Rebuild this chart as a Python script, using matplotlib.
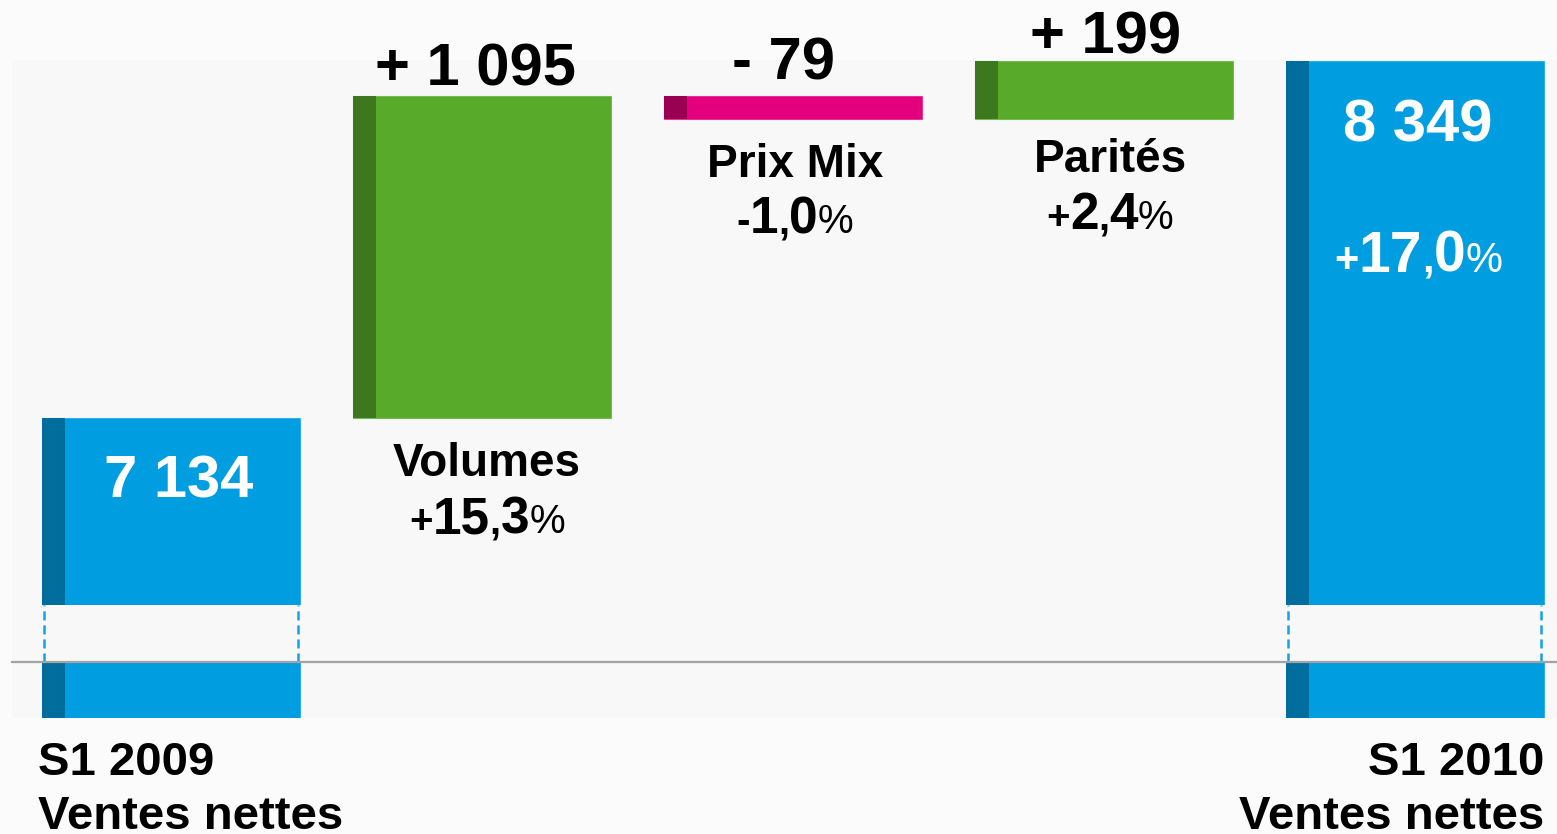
import matplotlib
matplotlib.use('Agg')
import matplotlib.pyplot as plt
from matplotlib.patches import Rectangle
from matplotlib.lines import Line2D

plt.rcParams['lines.scale_dashes'] = False

W, H, DPI = 1557, 834, 100
FONT = ['Liberation Sans', 'DejaVu Sans']

# ---------------- data ----------------
categories = ['S1 2009', 'Volumes', 'Prix Mix', 'Parités', 'S1 2010']
values = [7134, 1095, -79, 199, 8349]
kinds = ['total', 'delta', 'delta', 'delta', 'total']
value_labels = ['7 134', '+ 1 095', '- 79', '+ 199', '8 349']
pct_values = [None, 15.3, -1.0, 2.4, 17.0]
total_sublabel = 'Ventes nettes'

# ---------------- colours ----------------
C_TOTAL, C_TOTAL_D = '#009ee0', '#006d9c'
C_POS, C_POS_D = '#58aa2a', '#3e781e'
C_NEG, C_NEG_D = '#e4007c', '#9a0052'

# waterfall geometry from values
bottoms, heights, colors, darks = [], [], [], []
running = 0
for v, k in zip(values, kinds):
    if k == 'total':
        bottoms.append(0); heights.append(v); running = v
        colors.append(C_TOTAL); darks.append(C_TOTAL_D)
    else:
        if v >= 0:
            bottoms.append(running); heights.append(v)
            colors.append(C_POS); darks.append(C_POS_D)
        else:
            bottoms.append(running + v); heights.append(-v)
            colors.append(C_NEG); darks.append(C_NEG_D)
        running += v
xs = list(range(len(values)))

fig = plt.figure(figsize=(W / DPI, H / DPI), dpi=DPI, facecolor='#fbfbfb')

# subtle plot-area background
fig.patches.append(Rectangle((12 / W, 1 - 718 / H), 1 - 12 / W, (718 - 60) / H,
                             transform=fig.transFigure, facecolor='#f8f8f8',
                             edgecolor='none', zorder=-10))


def px_axes(top, bottom):
    ax = fig.add_axes([0, 1 - bottom / H, 1, (bottom - top) / H])
    ax.set_xlim(-0.55, 4.458)
    ax.axis('off')
    ax.patch.set_alpha(0)
    ax.set_zorder(1)
    return ax


BW = 0.83
STRIP = 0.075

ax_top = px_axes(0, 605)
ax_top.set_ylim(6498, 8555)
ax_gap = px_axes(605, 662)
ax_gap.set_ylim(0, 1)
ax_bot = px_axes(662, 718)
ax_bot.set_ylim(0, 190)

for ax in (ax_top, ax_bot):
    ax.bar(xs, heights, bottom=bottoms, width=BW, color=colors,
           edgecolor=[c + '99' for c in colors], linewidth=0.8)
    ax.bar([x - BW / 2 for x in xs], heights, bottom=bottoms, width=STRIP,
           align='edge', color=darks, linewidth=0)

# dashed break markers for total bars
inset = 2.5 / 311
for x, k in zip(xs, kinds):
    if k == 'total':
        for xe in (x - BW / 2 + inset, x + BW / 2 - inset):
            ax_gap.plot([xe, xe], [0, 1], color='#12a2e6', lw=1.8,
                        linestyle=(0, (6.5, 3.6)), solid_capstyle='butt')

# baseline grey line
fig.lines.append(Line2D([12 / W, 1], [1 - 662 / H, 1 - 662 / H],
                        transform=fig.transFigure, color='#a3a3a3', lw=1.6, zorder=5))

# ---------------- text ----------------
renderer = fig.canvas.get_renderer()


def rich(pieces, cx, baseline, color='black', align='center'):
    texts = []
    for s, size, weight in pieces:
        t = fig.text(0, 1 - baseline / H, s, fontsize=size, fontweight=weight,
                     color=color, ha='left', va='baseline', family=FONT, zorder=10)
        texts.append(t)
    widths = [t.get_window_extent(renderer).width for t in texts]
    total = sum(widths)
    x = cx - total / 2 if align == 'center' else (cx if align == 'left' else cx - total)
    for t, w in zip(texts, widths):
        t.set_x(x / W)
        x += w


def pct_pieces(v, big, small):
    sign = '+' if v >= 0 else '-'
    ip, dp = f'{abs(v):.1f}'.split('.')
    return [(sign, small, 'bold'), (ip, big, 'bold'), (',', small, 'bold'),
            (dp, big, 'bold'), ('%', small, 'normal')]


# value labels
val_pos = [(179, 498, 'white'), (475, 85, 'black'), (784, 80, 'black'),
           (1106, 54, 'black'), (1418, 142, 'white')]
for lab, (cx, by, col) in zip(value_labels, val_pos):
    rich([(lab, 43, 'bold')], cx, by, color=col)

# category labels for deltas + percentages
cat_pos = {1: (487, 476, 533), 2: (795, 177, 233), 3: (1110, 172, 229)}
for i, (cx, by1, by2) in cat_pos.items():
    rich([(categories[i], 33, 'bold')], cx, by1)
    rich(pct_pieces(pct_values[i], 37, 29), cx, by2)

# total change percentage inside final bar
rich(pct_pieces(pct_values[4], 41, 30), 1418, 272, color='white')

# total bar labels below
rich([(categories[0], 34, 'bold')], 38, 775, align='left')
rich([(total_sublabel, 34, 'bold')], 38, 829, align='left')
rich([(categories[4], 34, 'bold')], 1544, 775, align='right')
rich([(total_sublabel, 34, 'bold')], 1544, 829, align='right')

fig.savefig('out.png', dpi=DPI, facecolor=fig.get_facecolor())
